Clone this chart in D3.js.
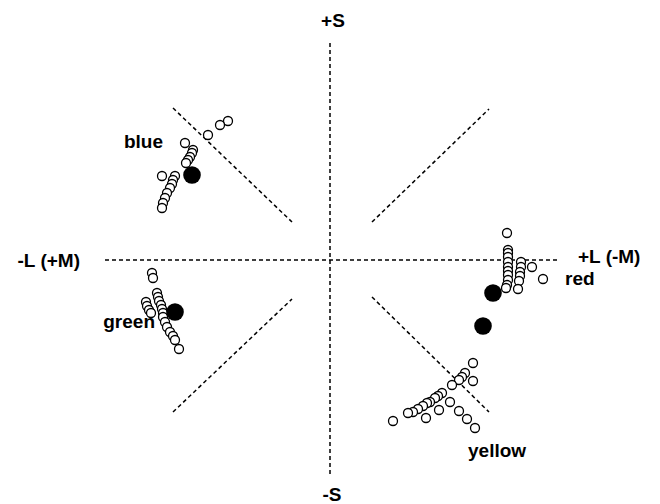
<!DOCTYPE html>
<html>
<head>
<meta charset="utf-8">
<script src="https://cdn.jsdelivr.net/npm/d3@7"></script>
<style>
  body { margin: 0; background: #fff; }
  svg { display: block; }
  .lbl { font-family: "Liberation Sans", Arial, sans-serif; font-weight: bold; font-size: 19px; fill: #000; }
</style>
</head>
<body>
<svg width="660" height="504"></svg>
<script>
// cone-contrast space, values (arbitrary units, origin = grey)
var bluePts = [[-102,139],[-110,135],[-122,125],[-145,117],[-137,110],[-138,107],[-140,103],[-142,100],[-144,97],
  [-168,84],[-155,84],[-157,80],[-158,76],[-160,72],[-163,67],[-165,62],[-167,57],[-168,52]];
var greenPts = [[-178,-13],[-177,-18],[-173,-33],[-172,-37],[-171,-41],[-184,-42],[-183,-46],[-181,-50],[-179,-53],
  [-169,-45],[-168,-49],[-167,-53],[-167,-57],[-165,-62],[-163,-67],[-160,-72],[-157,-76],[-155,-80],[-151,-89]];
var redPts = [[177,27],[178,10],[178,7],[178,3],[178,-2],[178,-7],[178,-11],[178,-15],[178,-20],[177,-25],[176,-28],
  [191,-2],[191,-7],[190,-12],[190,-16],[189,-21],[188,-29],[202,-7],[213,-19]];
var yellowPts = [[143,-103],[135,-113],[132,-117],[129,-120],[143,-121],[122,-125],[112,-133],[108,-136],[105,-138],
  [120,-142],[100,-142],[97,-143],[93,-146],[88,-149],[83,-152],[78,-153],[63,-161],[109,-150],[96,-158],
  [129,-151],[137,-159],[145,-168]];
var meanPts = [[-138,85],[-155,-52],[163,-33],[153,-66]];

var axisLines = [[-225,0,227,0],[0,217,0,-217]];
var diagLines = [[-157,152,-38,38],[42,38,159,151],[-157,-152,-38,-39],[42,-37,159,-152]];

var labels = [
  {t:'+S', x:3, y:233, a:'middle'},
  {t:'-S', x:2, y:-241, a:'middle'},
  {t:'-L (+M)', x:-250, y:-7, a:'end'},
  {t:'+L (-M)', x:248, y:-3, a:'start'},
  {t:'blue', x:-167, y:112, a:'end'},
  {t:'green', x:-175, y:-68, a:'end'},
  {t:'red', x:235, y:-25, a:'start'},
  {t:'yellow', x:138, y:-197, a:'start'}
];

var svg = d3.select('svg');
var x = d3.scaleLinear().domain([-225,225]).range([105,555]);
var y = d3.scaleLinear().domain([-217,217]).range([477,43]);

var g = svg.append('g');

g.selectAll('line.guide')
  .data(axisLines.concat(diagLines))
  .enter().append('line')
  .attr('class','guide')
  .attr('x1', d => x(d[0])).attr('y1', d => y(d[1]))
  .attr('x2', d => x(d[2])).attr('y2', d => y(d[3]))
  .attr('stroke','#000').attr('stroke-width',1.5)
  .attr('stroke-dasharray','4,3');

var openPts = bluePts.concat(greenPts, redPts, yellowPts);
g.selectAll('circle.obs')
  .data(openPts)
  .enter().append('circle')
  .attr('class','obs')
  .attr('cx', d => x(d[0])).attr('cy', d => y(d[1]))
  .attr('r', 4.5)
  .attr('fill','#fff').attr('stroke','#000').attr('stroke-width',1.3);

g.selectAll('circle.mean')
  .data(meanPts)
  .enter().append('circle')
  .attr('class','mean')
  .attr('cx', d => x(d[0])).attr('cy', d => y(d[1]))
  .attr('r', 8.8)
  .attr('fill','#000');

g.selectAll('text.lbl')
  .data(labels)
  .enter().append('text')
  .attr('class','lbl')
  .attr('x', d => x(d.x)).attr('y', d => y(d.y))
  .attr('text-anchor', d => d.a)
  .text(d => d.t);
</script>
</body>
</html>
